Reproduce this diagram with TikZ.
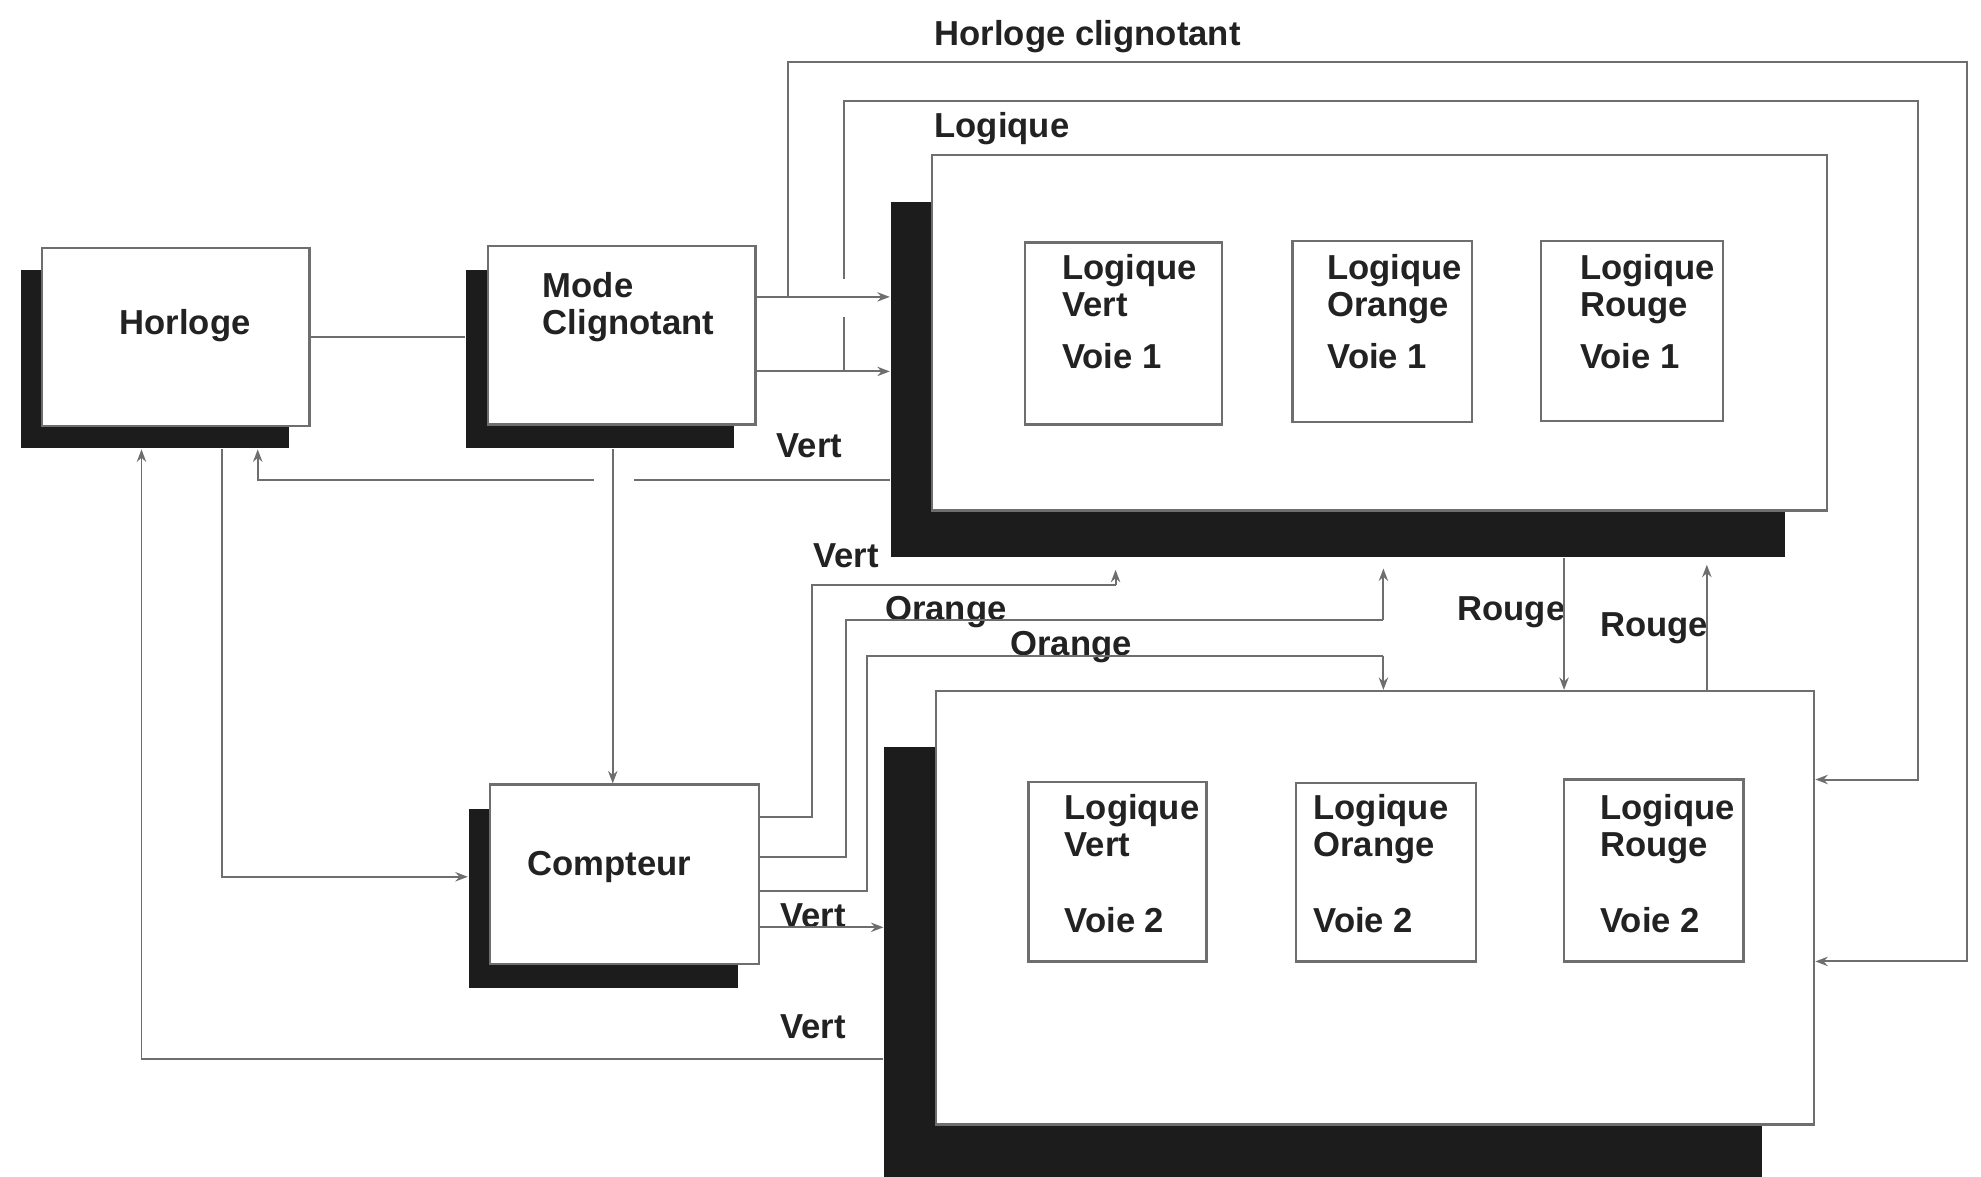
\documentclass[tikz,border=0pt]{standalone}
\usepackage{fontspec}
\setmainfont{Liberation Sans}
\usetikzlibrary{arrows.meta,calc,backgrounds}
\definecolor{cShade}{HTML}{1C1C1C}
\definecolor{cWire}{HTML}{6E6E6E}
\definecolor{cText}{HTML}{222222}
\tikzset{
  sz/.style 2 args={minimum width=#1*0.01cm,minimum height=#2*0.01cm},
  blk/.style={draw=cWire,fill=white,line width=0.5pt,inner sep=0pt},
  shd/.style={fill=cShade,draw=none,inner sep=0pt},
  lgbox/.style={draw=cWire,fill=white,line width=0.5pt,inner sep=0pt},
  txt/.style={font=\fontsize{7.8}{8.4}\selectfont\bfseries,text=cText,inner sep=0pt,anchor=base west,align=left},
  wire/.style={draw=cWire,line width=0.45pt},
  arr/.style={wire,-{Stealth[length=2.8pt,width=2.1pt]}},
  gap/.style={draw=white,line width=3pt},
}

\begin{document}
\begin{tikzpicture}[x=0.01cm,y=-0.01cm]
  \useasboundingbox (0,0) rectangle (1568,931);
  % blocks
  \node[blk,sz={212}{141}] (horl)  at (139,266.5)   {};
  \node[blk,sz={212}{141}] (mode)  at (492,265.5)   {};
  \node[blk,sz={213}{142}] (cpt)   at (494.5,692)   {};
  \node[blk,sz={708}{281}] (voie1) at (1092,263.5)  {};
  \node[blk,sz={695}{343}] (voie2) at (1088.5,718.5) {};
  % shadows
  \begin{scope}[on background layer]
    \node[shd,sz={212}{141}] (horlS)  at ($(horl)+(-16,18)$)  {};
    \node[shd,sz={212}{141}] (modeS)  at ($(mode)+(-17,19)$)  {};
    \node[shd,sz={213}{142}] (cptS)   at ($(cpt)+(-17,19)$)   {};
    \node[shd,sz={708}{281}] (voie1S) at ($(voie1)+(-33,37)$) {};
    \node[shd,sz={695}{343}] (voie2S) at ($(voie2)+(-41,44)$) {};
  \end{scope}
  % logique blocks
  \node[lgbox,sz={156}{144}] (v1vert) at (889,264)     {};
  \node[lgbox,sz={142}{143}] (v1orng) at (1094,262.5)  {};
  \node[lgbox,sz={144}{142}] (v1roug) at (1292,262)    {};
  \node[lgbox,sz={141}{142}] (v2vert) at (884.5,690)   {};
  \node[lgbox,sz={142}{141}] (v2orng) at (1097,690.5)  {};
  \node[lgbox,sz={142}{144}] (v2roug) at (1309,689)    {};
  % texts (base = last line)
  \node[txt] (tHorl) at (94,265)  {Horloge};
  \node[txt] (tMode) at (429,265) {Mode\\Clignotant};
  \node[txt] (tCpt)  at (417,693) {Compteur};
  \node[txt] (t1v) at (840,292)  {Logique\\Vert\\[3.3pt]Voie 1};
  \node[txt] (t1o) at (1050,292) {Logique\\Orange\\[3.3pt]Voie 1};
  \node[txt] (t1r) at (1250,292) {Logique\\Rouge\\[3.3pt]Voie 1};
  \node[txt] (t2v) at (842,738)  {Logique\\Vert\\[8.7pt]Voie 2};
  \node[txt] (t2o) at (1039,738) {Logique\\Orange\\[8.7pt]Voie 2};
  \node[txt] (t2r) at (1266,738) {Logique\\Rouge\\[8.7pt]Voie 2};
  % signal names
  \node[txt] (lHc)  at (739,36)   {Horloge clignotant};
  \node[txt] (lLg)  at (739,109)  {Logique};
  \node[txt] (lV1)  at (614,362)  {Vert};
  \node[txt] (lV2)  at (643,449)  {Vert};
  \node[txt] (lO1)  at (700,491)  {Orange};
  \node[txt] (lO2)  at (799,519)  {Orange};
  \node[txt] (lV3)  at (617,734)  {Vert};
  \node[txt] (lV4)  at (617,822)  {Vert};
  \node[txt] (lR1)  at (1153,491) {Rouge};
  \node[txt] (lR2)  at (1266,504) {Rouge};
  % ports and corners
  \coordinate (brA)  at (624,235);
  \coordinate (brB)  at (668,294);
  \coordinate (hcNE) at (1557,49);
  \coordinate (hcSE) at (1557,761);
  \coordinate (lgNE) at (1518,80);
  \coordinate (lgSE) at (1518,617);
  \coordinate (vA)   at (883,463);
  \coordinate (vAtip) at (883,451);
  \coordinate (oA)   at (1095,491);
  \coordinate (oAtip) at (1095,450);
  \coordinate (oB)   at (1095,519);
  \coordinate (rBtip) at (1351,447);
  % Horloge -> Mode
  \draw[wire] (horl.east) -- (modeS.west |- horl.east);
  % Logique loop
  \draw[wire] (mode.east |- brB) -- (brB);
  \draw[arr] (brB) -- (brB -| voie1S.west);
  \draw[arr] (brB) |- (lgNE) -- (lgSE) -- (lgSE -| voie2.east);
  \draw[gap] (668,221) -- (668,251);
  % Horloge clignotant loop
  \draw[arr] (mode.east |- brA) -- (brA -| voie1S.west);
  \draw[arr] (brA) |- (hcNE) -- (hcSE) -- (hcSE -| voie2.east);
  % Vert back to Horloge
  \draw[arr] (voie1S.west |- 0,380) -| (horlS.south -| 204,0);
  \draw[gap] (470,380) -- (502,380);
  % Mode -> Compteur
  \draw[arr] (modeS.south -| 485,0) -- (cpt.north -| 485,0);
  % Horloge -> Compteur
  \draw[arr] (horlS.south -| 176,0) |- (cptS.west |- 0,694);
  % Vert from Voie 2 back to Horloge
  \draw[arr] (voie2S.west |- 0,838) -| (horlS.south -| 112,0);
  % Compteur outputs
  \draw[wire] (cpt.east |- 0,647) -| (vA -| 643,0) -- (vA);
  \draw[arr] (vA) -- (vAtip);
  \draw[wire] (cpt.east |- 0,678) -| (oA -| 670,0) -- (oA);
  \draw[arr] (oA) -- (oAtip);
  \draw[wire] (cpt.east |- 0,705) -| (oB -| 686,0) -- (oB);
  \draw[arr] (oB) -- (voie2.north -| oB);
  \draw[arr] (cpt.east |- 0,734) -- (voie2S.west |- 0,734);
  % Rouge
  \draw[arr] (voie1S.south -| 1238,0) -- (voie2.north -| 1238,0);
  \draw[arr] (voie2.north -| rBtip) -- (rBtip);
\end{tikzpicture}
\end{document}
